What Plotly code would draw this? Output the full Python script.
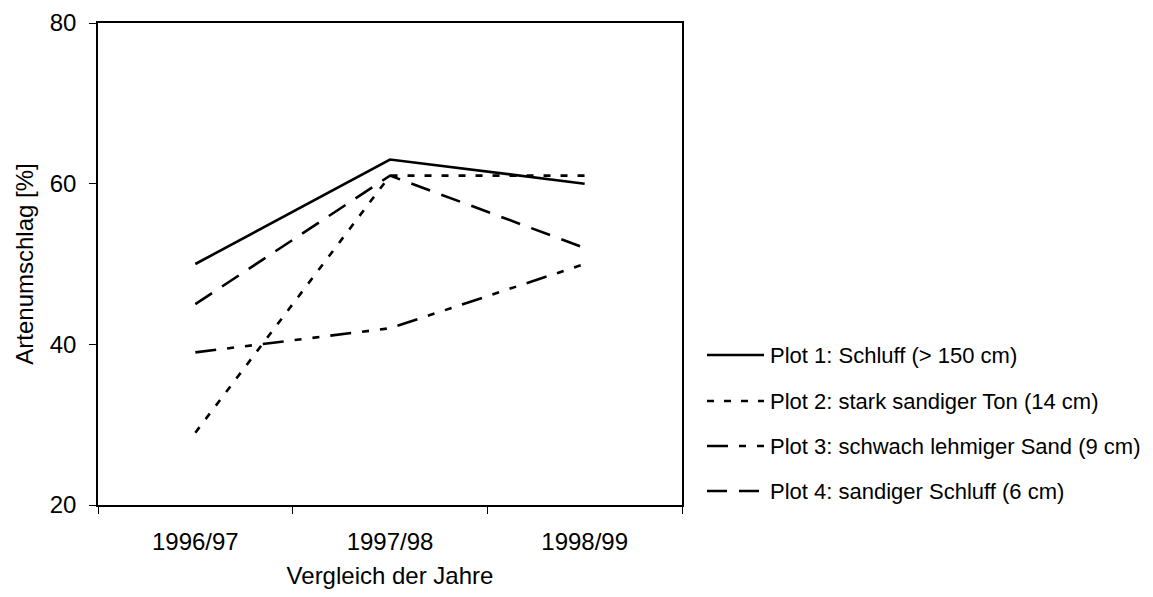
import plotly.graph_objects as go

# Vergleichszeiträume und Artenumschlag je Plot (%)
jahre = ["1996/97", "1997/98", "1998/99"]
plot1 = [50, 63, 60]
plot2 = [29, 61, 61]
plot3 = [39, 42, 50]
plot4 = [45, 61, 52]

namen = [
    "Plot 1: Schluff (> 150 cm)",
    "Plot 2: stark sandiger Ton (14 cm)",
    "Plot 3: schwach lehmiger Sand (9 cm)",
    "Plot 4: sandiger Schluff (6 cm)",
]
serien = [plot1, plot2, plot3, plot4]
striche = ["solid", "7px,10px", "21px,11px,7px,11px,7px,11px", "20px,12px"]

FONT = "Liberation Sans, Arial, sans-serif"
W, H = 1153, 597
L, R, T, B = 98, 682, 23, 505

fig = go.Figure()
for name, werte, dash in zip(namen, serien, striche):
    fig.add_trace(go.Scatter(
        x=jahre, y=werte, name=name, mode="lines",
        line=dict(color="black", width=2.6, dash=dash),
        showlegend=False,
    ))

# Legende rechts neben dem Diagramm
pw, ph = R - L, B - T
leg_y = [355, 401, 446, 491]
for name, dash, yy in zip(namen, striche, leg_y):
    yp = (B - yy) / ph
    fig.add_shape(type="line", xref="paper", yref="paper",
                  x0=(707 - L) / pw, x1=(764 - L) / pw, y0=yp, y1=yp,
                  line=dict(color="black", width=2.6, dash=dash))
    fig.add_annotation(xref="paper", yref="paper", x=(768 - L) / pw, y=yp,
                       text=name, showarrow=False, xanchor="left", yanchor="middle",
                       font=dict(family=FONT, size=22, color="black"))

achse = dict(showline=True, linecolor="black", linewidth=1.5, mirror=True,
             ticks="outside", ticklen=7, tickcolor="black", tickwidth=1,
             showgrid=False, zeroline=False,
             tickfont=dict(family=FONT, size=24, color="black"))

fig.update_xaxes(**achse, type="category", tickson="boundaries",
                 range=[-0.5, len(jahre) - 0.5],
                 ticklabelstandoff=14,
                 title=dict(text="Vergleich der Jahre", standoff=14,
                            font=dict(family=FONT, size=24, color="black")))
fig.update_yaxes(**achse, range=[20, 80], tickvals=[20, 40, 60, 80],
                 ticklabelstandoff=8,
                 title=dict(text="Artenumschlag [%]", standoff=9,
                            font=dict(family=FONT, size=24, color="black")))

fig.update_layout(
    width=W, height=H,
    margin=dict(l=L, r=W - R, t=T, b=H - B, autoexpand=False),
    paper_bgcolor="white", plot_bgcolor="white",
    font=dict(family=FONT, color="black"),
)

fig.write_html("out.html")
